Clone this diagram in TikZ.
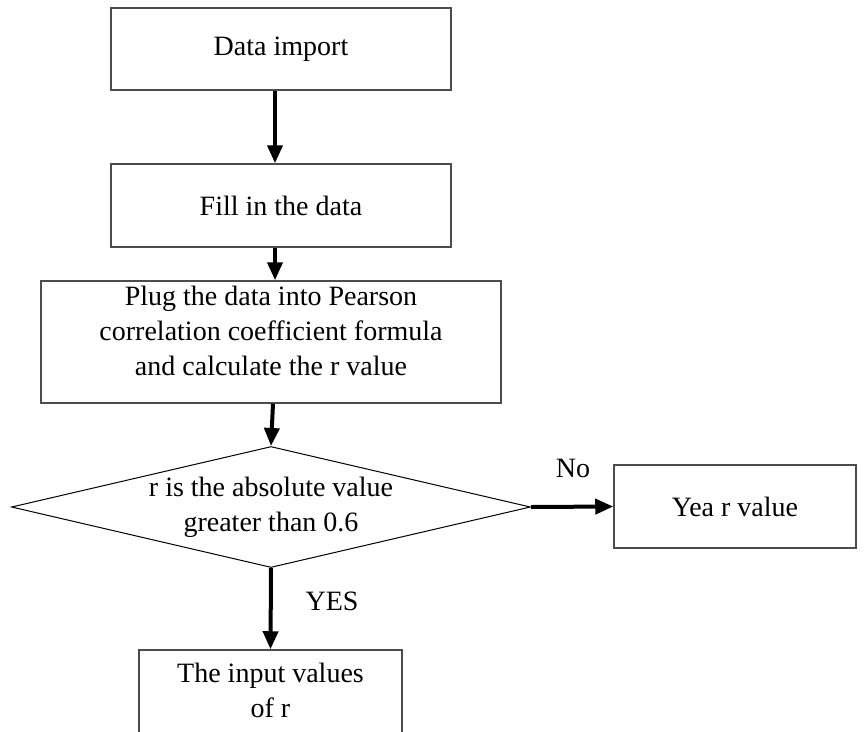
\documentclass[tikz,border=0pt]{standalone}
\usepackage{fontspec}
\setmainfont{Liberation Serif}
\usetikzlibrary{arrows.meta,shapes.geometric}
\begin{document}
\begin{tikzpicture}[x=1pt,y=-1pt,
  every node/.style={font=\fontsize{28}{35}\selectfont},
  procbox/.style={draw=black!70,line width=1.5pt,rectangle,inner sep=0pt,align=center},
  decbox/.style={draw=black,line width=1pt,diamond,shape aspect=4.3,inner sep=0pt,align=center,minimum width=519pt,minimum height=121pt},
  arr/.style={line width=4pt,-{Triangle[length=18pt,width=15pt]}},
  lbl/.style={inner sep=0pt,align=center}]
\useasboundingbox (0,0) rectangle (866,731);
\node[procbox,minimum width=340pt,minimum height=82pt] (b1) at (281,49) {Data import};
\node[procbox,minimum width=340pt,minimum height=83pt] (b2) at (281,205.5) {Fill in the data};
\node[procbox,minimum width=460pt,minimum height=122pt] (b3) at (271,342) {};
\node[lbl] (t3) at (271,331) {Plug the data into Pearson\\correlation coefficient formula\\and calculate the r value};
\node[decbox] (d) at (271,507) {r is the absolute value\\greater than 0.6};
\node[procbox,minimum width=242pt,minimum height=83pt] (b4) at (735,506.5) {Yea r value};
\node[procbox,minimum width=263pt,minimum height=100pt] (b5) at (270.5,700) {};
\node[lbl] (t5) at (270.5,690) {The input values\\of r};
\draw[arr] ([xshift=-6pt]b1.south) -- ([xshift=-6pt]b2.north);
\draw[arr] ([xshift=-6pt]b2.south) -- ([xshift=4pt]b3.north);
\draw[arr] ([xshift=2pt]b3.south) -- (d.north);
\draw[arr] (d.east) -- (b4.west);
\draw[arr] (d.south) -- (b5.north);
\node[lbl] (no) at (573,468) {No};
\node[lbl] (yes) at (332,601) {YES};
\end{tikzpicture}
\end{document}
